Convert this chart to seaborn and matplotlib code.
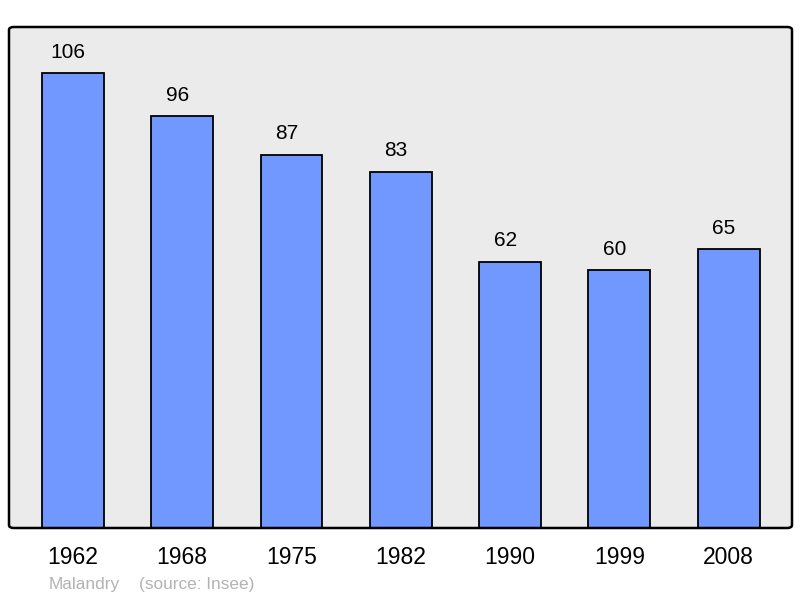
import matplotlib
matplotlib.use("Agg")
import matplotlib.pyplot as plt
import seaborn as sns
import pandas as pd
from matplotlib.patches import FancyBboxPatch

years = ["1962", "1968", "1975", "1982", "1990", "1999", "2008"]
population = [106, 96, 87, 83, 62, 60, 65]
town = "Malandry"
source = "(source: Insee)"

sns.set_theme(style="white")
plt.rcParams['font.family'] = ['Liberation Sans', 'DejaVu Sans']

df = pd.DataFrame({"year": years, "pop": population})

fig = plt.figure(figsize=(8, 5.98), dpi=100)
ax = fig.add_axes([9/800, 1-528/598, 783/800, 501/598])
ax.set_facecolor("#ebebeb")

sns.barplot(data=df, x="year", y="pop", color="#7098ff", saturation=1,
            width=0.567, edgecolor="black", linewidth=1.3, ax=ax, zorder=3)

ax.set_xlim(-0.585, 6.58)
ax.set_ylim(0, 116.7)
ax.set_xlabel("")
ax.set_ylabel("")
ax.set_yticks([])
ax.tick_params(axis="x", length=0, labelsize=16.5, pad=13, colors="black")
for s in ax.spines.values():
    s.set_visible(False)

for i, v in enumerate(population):
    ax.annotate(str(v), (i, v), xytext=(-3.5, 15), textcoords="offset points",
                ha="center", va="center", fontsize=15, color="black")

frame = FancyBboxPatch((0, 0), 1, 1, boxstyle="round,pad=0,rounding_size=0.006",
                       transform=ax.transAxes, fill=False, edgecolor="black",
                       linewidth=1.8, zorder=5, clip_on=False)
ax.add_patch(frame)

fig.text(49/800, 1-584/598, town, fontsize=12.4, color="#b3b3b3", va="center", ha="left")
fig.text(139/800, 1-584/598, source, fontsize=12.4, color="#b3b3b3", va="center", ha="left")

fig.savefig("out.png", dpi=100)
